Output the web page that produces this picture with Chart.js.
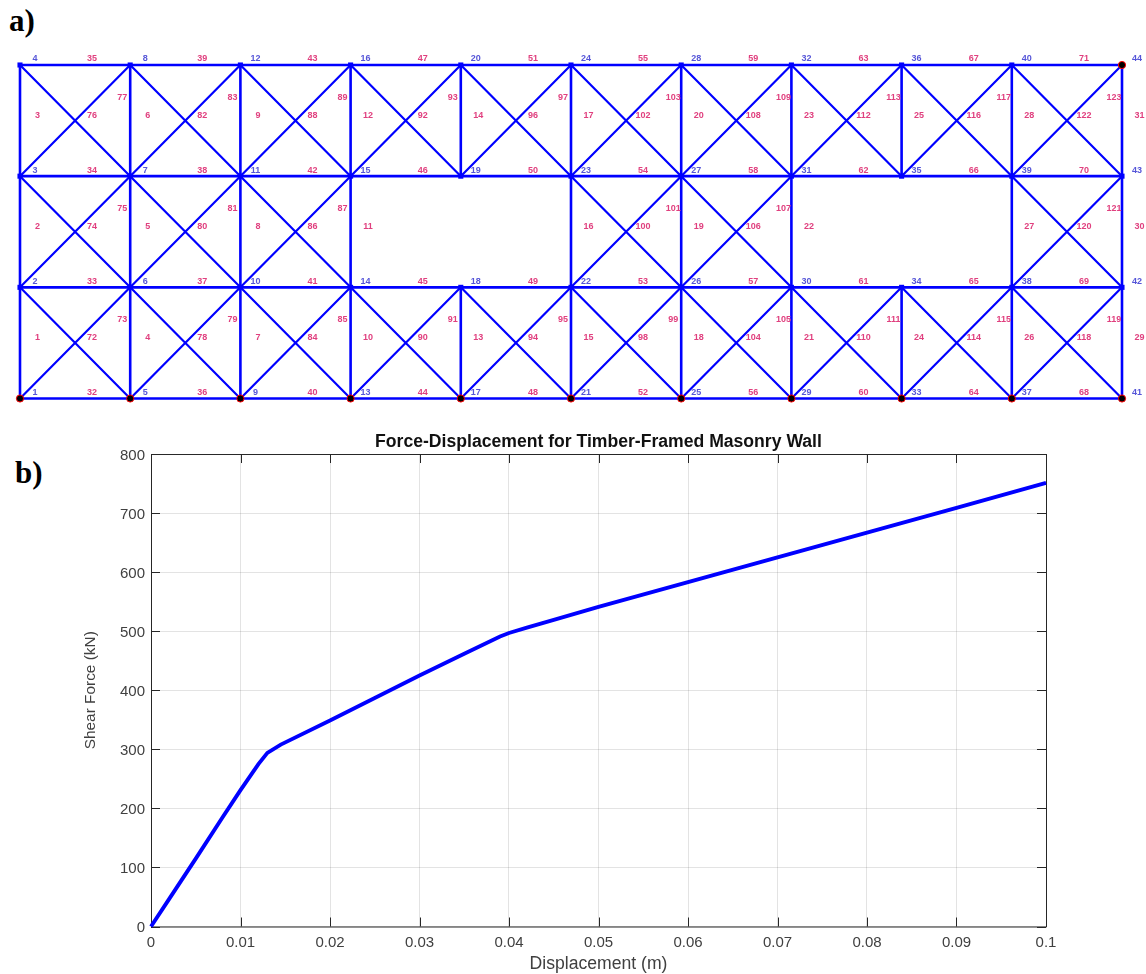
<!DOCTYPE html>
<html><head><meta charset="utf-8">
<script src="https://cdn.jsdelivr.net/npm/chart.js@4/dist/chart.umd.js"></script>
<style>
html,body{margin:0;padding:0;background:#fff;width:1146px;height:974px;overflow:hidden}
canvas{position:absolute;left:0;top:0}
.tag{position:absolute;font:bold 31px "Liberation Serif",serif;color:#000;line-height:1}
</style></head><body>
<div class="tag" style="left:9px;top:5px">a)</div>
<div class="tag" style="left:15px;top:457px">b)</div>
<div style="position:absolute;left:0;top:0;width:1146px;height:430px"><canvas id="truss" width="1146" height="430"></canvas></div>
<div style="position:absolute;left:0;top:430px;width:1146px;height:544px"><canvas id="curve" width="1146" height="544"></canvas></div>
<script>
// Wall frame: bays and storeys in panel units
const columnCoords=[0,1,2,3,4,5,6,7,8,9,10];
const levelCoords=[0,1,2,3];
const openPanels=['3,1','4,1','7,1','8,1'];       // bay,storey with no diagonals
const missingVerticalPanels=['4,1','8,1'];         // column,storey with no vertical member
const restrainedNodes=[1,5,9,13,17,21,25,29,33,37,41,44];
// Force-displacement curve
const displacement=[0,0.002,0.005,0.008,0.01,0.012,0.013,0.0145,0.02,0.025,0.03,0.035,0.039,0.04,0.042,0.045,0.05,0.06,0.07,0.08,0.09,0.1];
const shearForce=[0,46,115,185,231,275,294,308,349,387,425,462,491,497,506,519,541,583,625,667,709,751];
const xTickLabels=['0','0.01','0.02','0.03','0.04','0.05','0.06','0.07','0.08','0.09','0.1'];
const yTickValues=[0,100,200,300,400,500,600,700,800];

const BLUE='#0000ff';
const nodeId=(c,l)=>4*c+l+1;
const nodes=[];columnCoords.forEach(c=>levelCoords.forEach(l=>nodes.push({x:c,y:l,id:nodeId(c,l)})));
const verticalsPts=[],horizontalsPts=[],diagonalPts=[];
const memberLabels=[];
let n=1;
columnCoords.forEach(c=>{for(let p=0;p<3;p++){
  if(missingVerticalPanels.includes(c+','+p))continue;
  verticalsPts.push({x:c,y:p},{x:c,y:p+1},{x:NaN,y:NaN});
  memberLabels.push({t:n++,x:c,y:p+.5,dx:17.5,dy:-5});
}});
n=32;
for(let c=0;c<10;c++)for(let l=0;l<4;l++){
  horizontalsPts.push({x:c,y:l},{x:c+1,y:l},{x:NaN,y:NaN});
  memberLabels.push({t:n++,x:c+.5,y:l,dx:17,dy:-6});
}
n=72;
for(let c=0;c<10;c++)for(let p=0;p<3;p++){
  if(openPanels.includes(c+','+p))continue;
  diagonalPts.push({x:c,y:p},{x:c+1,y:p+1},{x:NaN,y:NaN},{x:c,y:p+1},{x:c+1,y:p},{x:NaN,y:NaN});
  memberLabels.push({t:n++,x:c+.5,y:p+.5,dx:17,dy:-5});
  memberLabels.push({t:n++,x:c+1,y:p+.5,dx:-8,dy:-23});
}
const trussLabels={id:'trussLabels',afterDatasetsDraw(ch){
  const g=ch.ctx,X=ch.scales.x,Y=ch.scales.y;
  g.save();g.textAlign='center';g.textBaseline='middle';g.font='bold 9px "Liberation Sans",Arial,sans-serif';
  g.fillStyle='#e0407f';
  memberLabels.forEach(m=>g.fillText(String(m.t),X.getPixelForValue(m.x)+m.dx,Y.getPixelForValue(m.y)+m.dy));
  g.fillStyle='#5555d8';
  nodes.forEach(m=>g.fillText(String(m.id),X.getPixelForValue(m.x)+15,Y.getPixelForValue(m.y)-6));
  g.restore();
}};
const seg=(data)=>({type:'line',data,borderColor:BLUE,borderWidth:2.6,pointRadius:0,spanGaps:false,clip:false,order:3});
new Chart(document.getElementById('truss'),{
  type:'scatter',
  data:{datasets:[
    seg(verticalsPts),seg(horizontalsPts),{...seg(diagonalPts),borderWidth:2.2},
    {data:nodes.filter(d=>!restrainedNodes.includes(d.id)),pointStyle:'rect',pointRadius:3.6,backgroundColor:BLUE,borderWidth:0,clip:false,order:2},
    {data:nodes.filter(d=>restrainedNodes.includes(d.id)),pointStyle:'circle',pointRadius:3.6,backgroundColor:'#000',borderColor:'#ff0000',borderWidth:1,clip:false,order:1}
  ]},
  options:{responsive:false,animation:false,events:[],
    layout:{padding:{left:20,right:24,top:65,bottom:31.5}},
    plugins:{legend:{display:false},tooltip:{enabled:false},title:{display:false}},
    scales:{x:{type:'linear',display:false,min:0,max:10},y:{type:'linear',display:false,min:0,max:3}}
  },
  plugins:[trussLabels]
});
const axisFrame={id:'axisFrame',beforeDatasetsDraw(ch){
  const g=ch.ctx,A=ch.chartArea,X=ch.scales.x,Y=ch.scales.y,L=9;
  g.save();g.strokeStyle='#262626';g.lineWidth=1;g.beginPath();
  X.ticks.forEach(t=>{const p=Math.round(X.getPixelForValue(t.value))+.5;
    g.moveTo(p,A.bottom);g.lineTo(p,A.bottom-L);g.moveTo(p,A.top);g.lineTo(p,A.top+L);});
  Y.ticks.forEach(t=>{const p=Math.round(Y.getPixelForValue(t.value))+.5;
    g.moveTo(A.left,p);g.lineTo(A.left+L,p);g.moveTo(A.right,p);g.lineTo(A.right-L,p);});
  g.rect(A.left+.5,A.top+.5,A.right-A.left,A.bottom-A.top);
  g.stroke();g.restore();
}};
const FONT='"Liberation Sans",Arial,sans-serif';
new Chart(document.getElementById('curve'),{
  type:'line',
  data:{datasets:[{data:displacement.map((x,i)=>({x,y:shearForce[i]})),borderColor:BLUE,borderWidth:3.9,pointRadius:0,tension:0,clip:false}]},
  options:{responsive:false,animation:false,events:[],
    layout:{padding:{left:82,right:100,top:0,bottom:0}},
    plugins:{legend:{display:false},tooltip:{enabled:false},
      title:{display:true,text:'Force-Displacement for Timber-Framed Masonry Wall',color:'#111111',fullSize:false,
        font:{family:FONT,size:17.6,weight:'bold'},padding:{top:1.4,bottom:1.5}}},
    scales:{
      x:{type:'linear',min:0,max:0.1,
        afterBuildTicks(s){s.ticks=xTickLabels.map(v=>({value:+v}));},
        afterFit(s){s.height=47.5;},
        grid:{color:'rgba(38,38,38,0.13)',lineWidth:1,tickLength:0,drawTicks:false},
        border:{display:false},
        ticks:{maxRotation:0,autoSkip:false,color:'#404040',font:{family:FONT,size:15},padding:7.5,
          callback:(v)=>xTickLabels.find(l=>+l===v)},
        title:{display:true,text:'Displacement (m)',color:'#404040',font:{family:FONT,size:17.6},padding:{top:0,bottom:-1}}},
      y:{type:'linear',min:0,max:800,
        afterBuildTicks(s){s.ticks=yTickValues.map(v=>({value:v}));},
        afterFit(s){s.width=69;},
        grid:{color:'rgba(38,38,38,0.13)',lineWidth:1,tickLength:0,drawTicks:false},
        border:{display:false},
        ticks:{autoSkip:false,color:'#404040',font:{family:FONT,size:15},padding:6,labelOffset:1.5},
        title:{display:true,text:'Shear Force (kN)',color:'#404040',font:{family:FONT,size:15.4},padding:{top:0,bottom:0}}}
    }
  },
  plugins:[axisFrame]
});
</script></body></html>
